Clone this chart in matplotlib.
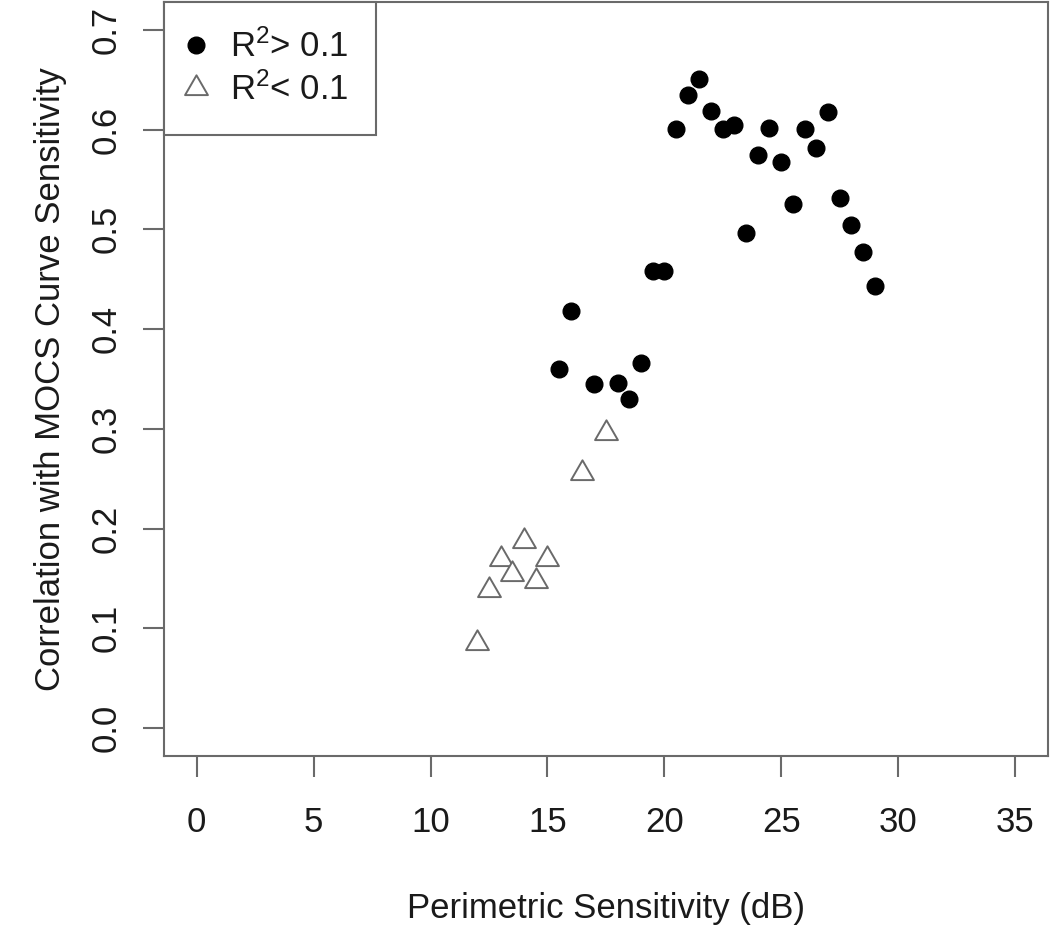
import matplotlib
matplotlib.use("Agg")
import matplotlib.pyplot as plt
from matplotlib.path import Path

# points with R^2 > 0.1 (filled circles)
HIGH_X = [15.5, 16, 17, 18, 18.5, 19, 19.5, 20, 20.5, 21, 21.5, 22, 22.5,
          23, 23.5, 24, 24.5, 25, 25.5, 26, 26.5, 27, 27.5, 28, 28.5, 29]
HIGH_Y = [0.360, 0.418, 0.345, 0.346, 0.330, 0.366, 0.458, 0.458, 0.601,
          0.635, 0.651, 0.619, 0.601, 0.605, 0.496, 0.575, 0.602, 0.568,
          0.525, 0.601, 0.582, 0.618, 0.531, 0.504, 0.477, 0.443]

# points with R^2 < 0.1 (open triangles)
LOW_X = [12, 12.5, 13, 13.5, 14, 14.5, 15, 16.5, 17.5]
LOW_Y = [0.085, 0.138, 0.169, 0.154, 0.188, 0.147, 0.169, 0.256, 0.296]

X_TICKS = [0, 5, 10, 15, 20, 25, 30, 35]
Y_TICKS = [0.0, 0.1, 0.2, 0.3, 0.4, 0.5, 0.6, 0.7]

GREY = "#6a6a6a"
TEXT = "#1a1a1a"

plt.rcParams["font.family"] = ["Liberation Sans", "DejaVu Sans"]
plt.rcParams["mathtext.fontset"] = "custom"
plt.rcParams["mathtext.rm"] = "Liberation Sans"
plt.rcParams["mathtext.it"] = "Liberation Sans:italic"

# R style pch=2 triangle, centred on its centroid
triangle = Path([(0, 1), (-0.866, -0.5), (0.866, -0.5), (0, 1)], closed=True)

fig = plt.figure(figsize=(10.5, 9.31), dpi=100)
ax = fig.add_axes([0.1562, 0.188, 0.8416, 0.8099])

ax.plot(HIGH_X, HIGH_Y, linestyle="none", marker="o", markersize=12,
        color="black", label=r"R$^{2}$> 0.1")
ax.plot(LOW_X, LOW_Y, linestyle="none", marker=triangle, markersize=19,
        markerfacecolor="white", markeredgecolor=GREY, markeredgewidth=1.4,
        label=r"R$^{2}$< 0.1")

ax.set_xlim(-1.4, 36.4)
ax.set_ylim(-0.028, 0.728)
ax.set_xticks(X_TICKS)
ax.set_xticklabels([str(v) for v in X_TICKS])
ax.set_yticks(Y_TICKS)
ax.set_yticklabels([f"{v:.1f}" for v in Y_TICKS], rotation=90, va="center")

for spine in ax.spines.values():
    spine.set_color(GREY)
    spine.set_linewidth(1.5)

ax.tick_params(axis="both", length=15, width=1.5, color=GREY,
               labelsize=25, labelcolor=TEXT)
ax.tick_params(axis="x", pad=21)
ax.tick_params(axis="y", pad=15)

ax.set_xlabel("Perimetric Sensitivity (dB)", fontsize=25, color=TEXT, labelpad=38)
ax.set_ylabel("Correlation with MOCS Curve Sensitivity", fontsize=25,
              color=TEXT, labelpad=16)

leg = ax.legend(loc="upper left", borderaxespad=0, fancybox=False,
                framealpha=1, edgecolor=GREY, fontsize=25,
                handlelength=0.24, handletextpad=0.86, labelspacing=0.24,
                borderpad=0.8, labelcolor=TEXT)
leg.get_frame().set_linewidth(1.5)

fig.savefig("out.png", dpi=100)
plt.close(fig)
